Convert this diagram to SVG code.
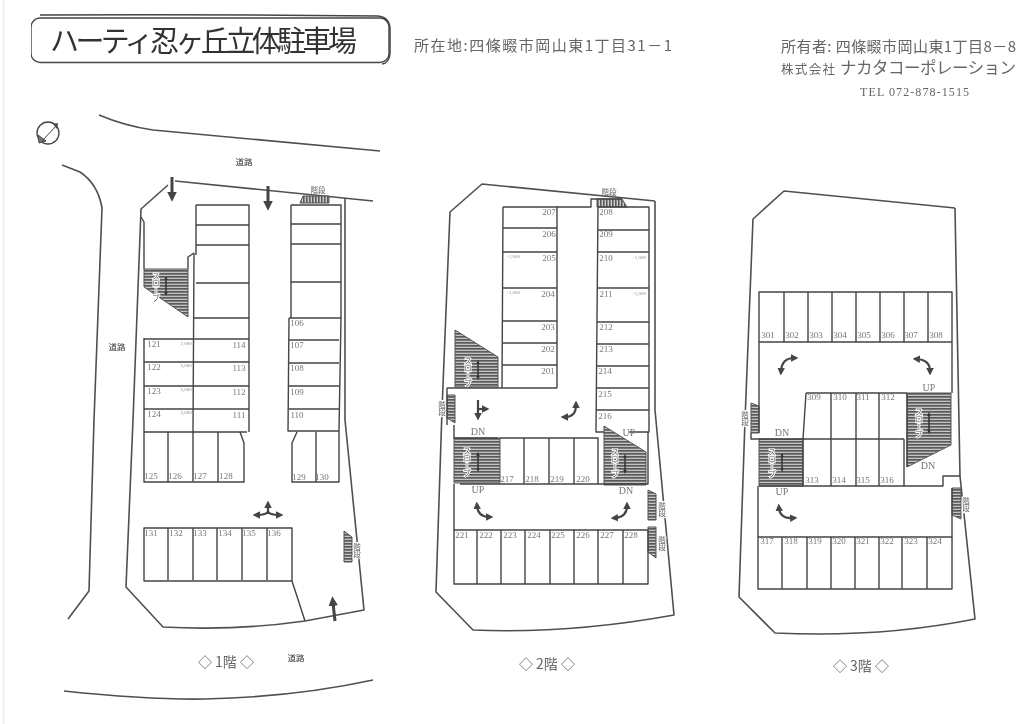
<svg xmlns="http://www.w3.org/2000/svg" width="1024" height="724" viewBox="0 0 1024 724">
<style>
.l{fill:none;stroke:#444;stroke-width:1.4;stroke-linejoin:round}
.o{fill:none;stroke:#505050;stroke-width:1.6;stroke-linejoin:round}
.n{font-family:"Liberation Serif",serif;font-size:9px;fill:#777;text-anchor:middle}
.s{font-family:"Liberation Serif",serif;font-size:5px;fill:#888;text-anchor:middle}
.j{font-family:"Noto Sans CJK JP",sans-serif;fill:#666}
.r{font-size:8.5px;fill:#333;text-anchor:middle}
.v{font-size:7.5px;fill:#666;stroke:#fff;stroke-width:2;paint-order:stroke;writing-mode:vertical-rl}
.h{font-size:7.5px;fill:#666;text-anchor:middle}
.f{font-size:14px;fill:#666;text-anchor:middle}
.sl{font-size:7.5px;fill:#555;stroke:#fff;stroke-width:2;paint-order:stroke;writing-mode:vertical-rl}
.d{font-family:"Liberation Serif",serif;font-size:10px;fill:#777;text-anchor:middle}
.a{fill:none;stroke:#444;stroke-width:2.2;marker-end:url(#ah);marker-start:url(#ah)}
.a1{fill:none;stroke:#444;stroke-width:2.2;marker-end:url(#ah)}
.a2{fill:none;stroke:#444;stroke-width:3;marker-end:url(#ah2)}
.hz{fill:url(#hh);stroke:#555;stroke-width:1}
.vt{fill:url(#vh);stroke:#555;stroke-width:1}
.dbl{fill:none;stroke:#333;stroke-width:1.5;marker-start:url(#ah3);marker-end:url(#ah3)}
</style>
<defs>
<pattern id="hh" width="4" height="3" patternUnits="userSpaceOnUse"><rect width="4" height="3" fill="#c4c4c4"/><rect width="4" height="1.7" fill="#5a5a5a"/></pattern>
<pattern id="vh" width="3" height="4" patternUnits="userSpaceOnUse"><rect width="3" height="4" fill="#ccc"/><rect width="1.6" height="4" fill="#5a5a5a"/></pattern>
<marker id="ah" viewBox="0 0 10 10" refX="4" refY="5" markerWidth="3.4" markerHeight="3.4" orient="auto-start-reverse"><path d="M0 0L10 5L0 10z" fill="#444"/></marker>
<marker id="ah2" viewBox="0 0 10 10" refX="3" refY="5" markerWidth="3.2" markerHeight="3.2" orient="auto"><path d="M0 0L10 5L0 10z" fill="#444"/></marker>
<marker id="ah3" viewBox="0 0 10 10" refX="5" refY="5" markerWidth="3" markerHeight="3" orient="auto-start-reverse"><path d="M0 1L10 5L0 9z" fill="#333"/></marker>
<filter id="scan" x="0" y="0" width="100%" height="100%"><feGaussianBlur stdDeviation="0.35"/></filter>
</defs>
<rect width="1024" height="724" fill="#fff"/>
<path d="M3.5 0V724" stroke="#f0f0f0" stroke-width="2"/>
<g id="sheet" filter="url(#scan)">

<g id="header">
<path d="M40 15Q200 14 378 16Q389 17 390 28V54Q389 63 382 64" fill="none" stroke="#444" stroke-width="1.5"/>
<rect x="31" y="18" width="358" height="44.500" rx="9" fill="#fff" stroke="#444" stroke-width="1.400"/>
<text x="50" y="52" class="j" style="fill:#333" font-size="29" textLength="307" lengthAdjust="spacing">ハーティ忍ヶ丘立体駐車場</text>
<text x="414" y="51" class="j" font-size="15" textLength="258" lengthAdjust="spacing">所在地:四條畷市岡山東1丁目31－1</text>
<text x="781" y="52" class="j" font-size="15" textLength="235" lengthAdjust="spacing">所有者: 四條畷市岡山東1丁目8－8</text>
<text x="781" y="74" class="j" font-size="12.500" textLength="54" lengthAdjust="spacing">株式会社</text>
<text x="840" y="74" class="j" font-size="16.500" textLength="176" lengthAdjust="spacing">ナカタコーポレーション</text>
<text x="860" y="96" font-family="Liberation Serif, serif" font-size="12" fill="#666" textLength="109">TEL 072-878-1515</text>
</g>

<g id="floor1">
<g id="compass"><circle cx="48" cy="133" r="11" fill="#fff" stroke="#444" stroke-width="1.300"/><path d="M42 141L56 126M38 135L46 141L39 143z" fill="#777" stroke="#444"/><path d="M53 124L58 123L57 129z" fill="#444"/></g>
<g id="roads1">
<path class="o" d="M99 115Q125 126 153 130L380 151"/>
<path class="o" d="M62 165L80 172Q98 184 102 208L94 420L89 591L68 619"/>
<path class="o" d="M64 691Q150 700 205 699Q295 697 373 680"/>
</g>
<g id="site1">
<path class="o" d="M175 181L373 201"/>
<path class="o" d="M168 185L141 209L133 420L126 587L163 627Q235 631 305 621L364 610L345 420V198"/>
<path class="l" d="M141 217L144 222V269M188 269V257L194 253M292 581L305 621"/>
</g>
<g id="slope1"><path class="hz" d="M144 269H188V317L144 287z"/><text x="156" y="272" class="j sl">スロープ</text><path class="dbl" d="M166 278V294"/></g>
<g id="stairs1"><path class="vt" d="M300 203L303 196H329V203z"/><text x="318" y="193" class="j h">階段</text>
<path class="hz" d="M344 531L352 537V562H344z"/><text x="357" y="543" class="j v">階段</text></g>
<g id="spaces1">
<path class="l" d="M196 205H249V432M196 205V255M194 253L193 432M196 225H249M196 245H249M196 283H249M194 318H249M144 339H249M144 362H249M144 386H249M144 409H249M144 432H247"/>
<path class="l" d="M144 338V482H240M168 432V482M193 432V482M218 432V482M240 432L244 443V482H240"/>
<path class="l" d="M291 205H341V319M291 205V318M289 318L288 431H339M341 318L339 431M289 318H341M291 224H341M291 244H341M291 282H341M289 340H339M289 363H339M289 386H339M289 409H339"/>
<path class="l" d="M297 432L292 443V482H339V431M316 432V482"/>
<path class="l" d="M144 528H292V581H144zM168 528V580M193 528V580M217 528V580M242 528V580M267 528V580"/>
</g>
<g id="labels1">
<text class="n" x="154" y="347">121</text><text class="n" x="154" y="370">122</text><text class="n" x="154" y="394">123</text><text class="n" x="154" y="417">124</text>
<text class="s" x="186" y="345">2,000</text><text class="s" x="186" y="367">2,000</text><text class="s" x="186" y="391">2,000</text><text class="s" x="186" y="414">2,000</text>
<text class="n" x="239" y="348">114</text><text class="n" x="239" y="371">113</text><text class="n" x="239" y="395">112</text><text class="n" x="239" y="418">111</text>
<text class="n" x="297" y="326">106</text><text class="n" x="297" y="348">107</text><text class="n" x="297" y="371">108</text><text class="n" x="297" y="395">109</text><text class="n" x="297" y="418">110</text>
<text class="n" x="151" y="479">125</text><text class="n" x="175" y="479">126</text><text class="n" x="200" y="479">127</text><text class="n" x="226" y="479">128</text><text class="n" x="299" y="480">129</text><text class="n" x="322" y="480">130</text>
<text class="n" x="151" y="536">131</text><text class="n" x="176" y="536">132</text><text class="n" x="200" y="536">133</text><text class="n" x="225" y="536">134</text><text class="n" x="249" y="536">135</text><text class="n" x="274" y="536">136</text>
<text class="j r" x="244" y="165">道路</text><text class="j r" x="117" y="350">道路</text><text class="j r" x="296" y="661">道路</text>
<text class="j f" x="226" y="667">◇ 1階 ◇</text>
</g>
<g id="arrows1">
<path class="a2" d="M172 177V195"/><path class="a2" d="M268 186V204"/><path class="a2" d="M335 621L333 603"/>
<path class="a1" d="M268 514V505"/><path class="a" d="M257 515Q265 515 268 512Q271 515 279 515"/>
</g>
</g>

<g id="floor2">
<g id="site2"><path class="o" d="M655 201L482 184L450 212L442 410L436 592L473 630Q570 634 674 615L655 410V201"/></g>
<g id="slopes2">
<path class="hz" d="M455 330L498 357V387H455z"/><text x="468" y="357" class="j sl">スロープ</text><path class="dbl" d="M478 362V378"/>
<path class="hz" d="M454 438H500V483H454z"/><text x="467" y="447" class="j sl">スロープ</text><path class="dbl" d="M478 454V470"/>
<path class="hz" d="M604 426L646 452V485H604z"/><text x="615" y="448" class="j sl">スロープ</text><path class="dbl" d="M625 456V472"/>
</g>
<g id="stairs2">
<path class="vt" d="M597 199H622L627 207H597z"/><text x="609" y="195" class="j h">階段</text>
<path class="hz" d="M455 395V423L447 418V395z"/><text x="442" y="401" class="j v">階段</text>
<path class="hz" d="M648 490L656 494V520H648z"/><text x="662" y="502" class="j v">階段</text>
<path class="hz" d="M648 527H656V558L648 552z"/><text x="662" y="536" class="j v">階段</text>
</g>
<g id="spaces2">
<path class="l" d="M503 207H557V388M503 207L502 388M503 228H557M503 252H557M503 288H557M502 321H557M502 343H557M502 365H557M447 388H557M447 388V425M454 425V438H498"/>
<path class="l" d="M557 207H591V199H622M598 207H649V432H629M598 207L596 432H604M598 230H649M598 252H649M598 288H649M597 322H649M597 344H649M597 366H649M597 388H649M596 410H649"/>
<path class="l" d="M500 438H598V484M524 438V484M549 438V484M574 438V484M460 484H648V432M454 484V530"/>
<path class="l" d="M454 530H648V584H454zM477 530V584M501 530V584M525 530V584M550 530V584M574 530V584M598 530V584M623 530V584"/>
</g>
<g id="labels2">
<text class="n" x="549" y="215">207</text><text class="n" x="549" y="237">206</text><text class="n" x="549" y="261">205</text><text class="n" x="548" y="297">204</text><text class="n" x="548" y="330">203</text><text class="n" x="548" y="352">202</text><text class="n" x="548" y="374">201</text>
<text class="n" x="606" y="215">208</text><text class="n" x="606" y="237">209</text><text class="n" x="606" y="261">210</text><text class="n" x="606" y="297">211</text><text class="n" x="606" y="330">212</text><text class="n" x="606" y="352">213</text><text class="n" x="605" y="374">214</text><text class="n" x="605" y="397">215</text><text class="n" x="605" y="419">216</text>
<text class="s" x="513" y="258">+1,000</text><text class="s" x="513" y="294">+1,000</text><text class="s" x="639" y="259">+1,000</text><text class="s" x="639" y="295">+1,000</text>
<text class="n" x="507" y="482">217</text><text class="n" x="532" y="482">218</text><text class="n" x="557" y="482">219</text><text class="n" x="583" y="482">220</text>
<text class="n" x="462" y="538">221</text><text class="n" x="486" y="538">222</text><text class="n" x="510" y="538">223</text><text class="n" x="534" y="538">224</text><text class="n" x="558" y="538">225</text><text class="n" x="583" y="538">226</text><text class="n" x="607" y="538">227</text><text class="n" x="631" y="538">228</text>
<text class="d" x="478" y="435">DN</text><text class="d" x="478" y="493">UP</text><text class="d" x="626" y="494">DN</text><text class="d" x="629" y="436">UP</text>
<text class="j f" x="547" y="669">◇ 2階 ◇</text>
</g>
<g id="arrows2">
<path class="a1" d="M478 400V416"/><path class="a1" d="M478 409H485"/>
<path class="a" d="M565 417Q576 417 576 405"/>
<path class="a" d="M477 506Q478 517 489 517"/>
<path class="a" d="M615 518Q627 517 627 506"/>
</g>
</g>

<g id="floor3">
<g id="site3"><path class="o" d="M955 208L784 191L753 219L745 420L739 597L775 633Q880 638 975 619L960 476L955 208"/></g>
<g id="slopes3">
<path class="hz" d="M907 393H951V445L907 467z"/><text x="919" y="408" class="j sl">スロープ</text><path class="dbl" d="M929 414V432"/>
<path class="hz" d="M759 439H803V486H759z"/><text x="772" y="448" class="j sl">スロープ</text><path class="dbl" d="M782 455V470"/>
</g>
<g id="stairs3">
<path class="hz" d="M751 403L759 406V433H751z"/><text x="745" y="411" class="j v">階段</text>
<path class="hz" d="M952 488H961V519L952 515z"/><text x="966" y="497" class="j v">階段</text>
</g>
<g id="spaces3">
<path class="l" d="M759 292H952V342H759zM784 292V342M808 292V342M832 292V342M856 292V342M880 292V342M904 292V342M928 292V342M759 342V433M751 433V439H804M952 342V393"/>
<path class="l" d="M806 393H907M806 393L803 439V486M831 393V486M856 393V486M879 393V486M904 439V486M907 393V467M803 439H904M759 486H943V476H960M952 488V537M758 486V537"/>
<path class="l" d="M758 537H952V589H758zM782 537V589M807 537V589M831 537V589M855 537V589M879 537V589M902 537V589M927 537V589"/>
</g>
<g id="labels3">
<text class="n" x="768" y="338">301</text><text class="n" x="792" y="338">302</text><text class="n" x="816" y="338">303</text><text class="n" x="840" y="338">304</text><text class="n" x="864" y="338">305</text><text class="n" x="888" y="338">306</text><text class="n" x="911" y="338">307</text><text class="n" x="936" y="338">308</text>
<text class="n" x="814" y="400">309</text><text class="n" x="840" y="400">310</text><text class="n" x="863" y="400">311</text><text class="n" x="888" y="400">312</text>
<text class="n" x="812" y="483">313</text><text class="n" x="839" y="483">314</text><text class="n" x="863" y="483">315</text><text class="n" x="887" y="483">316</text>
<text class="n" x="767" y="544">317</text><text class="n" x="791" y="544">318</text><text class="n" x="815" y="544">319</text><text class="n" x="839" y="544">320</text><text class="n" x="863" y="544">321</text><text class="n" x="887" y="544">322</text><text class="n" x="911" y="544">323</text><text class="n" x="935" y="544">324</text>
<text class="d" x="929" y="391">UP</text><text class="d" x="782" y="436">DN</text><text class="d" x="928" y="469">DN</text><text class="d" x="782" y="495">UP</text>
<text class="j f" x="861" y="671">◇ 3階 ◇</text>
</g>
<g id="arrows3">
<path class="a" d="M781 371Q782 358 794 358"/>
<path class="a" d="M917 359Q930 360 930 371"/>
<path class="a" d="M779 508Q780 519 793 518"/>
</g>
</g>
</g>
</svg>
